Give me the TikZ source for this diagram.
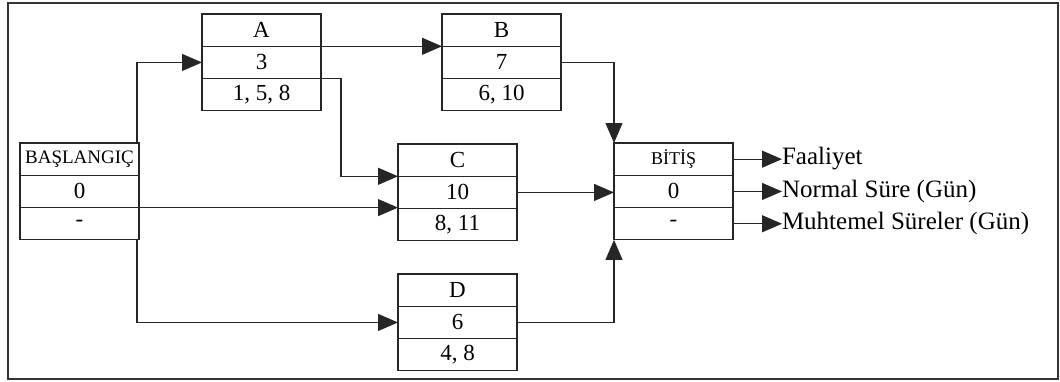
\documentclass[tikz,border=0pt]{standalone}
\usepackage{fontspec}
\setmainfont{Liberation Serif}
\usetikzlibrary{arrows.meta,calc}

\tikzset{
  cell/.style={draw=black!85, line width=1.1pt, minimum width=119pt,
    minimum height=32.3pt, inner sep=0pt, outer sep=0pt,
    font=\fontsize{23}{23}\selectfont},
  link/.style={draw=black!85, line width=1.1pt,
    -{Triangle[length=20pt,width=17pt]}},
  legend/.style={anchor=west, inner sep=0pt, outer sep=0pt,
    font=\fontsize{25}{25}\selectfont}
}

% one activity box: name, top-left x, top y, three row texts
\newcommand{\actbox}[6]{%
  \node[cell, anchor=north west] (#1a) at (#2,#3) {#4};
  \node[cell, anchor=north] (#1b) at (#1a.south) {#5};
  \node[cell, anchor=north] (#1c) at (#1b.south) {#6};
}

\begin{document}
\begin{tikzpicture}[x=1pt, y=-1pt]
  \useasboundingbox (0,0) rectangle (1060,381);
  \draw[line width=2pt, black!80] (8,3) rectangle (1058,379);

  \actbox{S}{20}{143}{\fontsize{19}{19}\selectfont BAŞLANGIÇ}{0}{-}
  \actbox{A}{202}{14}{A}{3}{1, 5, 8}
  \actbox{B}{442}{14}{B}{7}{6, 10}
  \actbox{C}{398}{144}{C}{10}{8, 11}
  \actbox{D}{398}{274}{D}{6}{4, 8}
  \actbox{E}{614}{143}{\fontsize{18}{18}\selectfont BİTİŞ}{0}{-}

  % links between activities
  \draw[link] ($(Sa.north east)+(-2,0)$) |- (Ab.west);
  \draw[link] ($(Sc.south east)+(-2,0)$) |- (Db.west);
  \draw[link] (Sc.north east) -- (Sc.north east -| Cc.west);
  \draw[link] (Aa.south east) -- (Ba.south west);
  \draw[link] (Ac.north east) -- ++(20,0) |- (Cb.north west);
  \draw[link] (Bb.east) -| (Ea.north west);
  \draw[link] (Cb.east) -- (Cb.east -| Eb.west);
  \draw[link] (Db.east) -| (Ec.south west);

  % legend
  \node[legend] (L1) at (782,159) {Faaliyet};
  \node[legend] (L2) at (782,191) {Normal Süre (Gün)};
  \node[legend] (L3) at (782,223) {Muhtemel Süreler (Gün)};
  \draw[link] (Ea.east) -- (Ea.east -| L1.west);
  \draw[link] (Eb.east) -- (Eb.east -| L2.west);
  \draw[link] (Ec.east) -- (Ec.east -| L3.west);
\end{tikzpicture}
\end{document}
